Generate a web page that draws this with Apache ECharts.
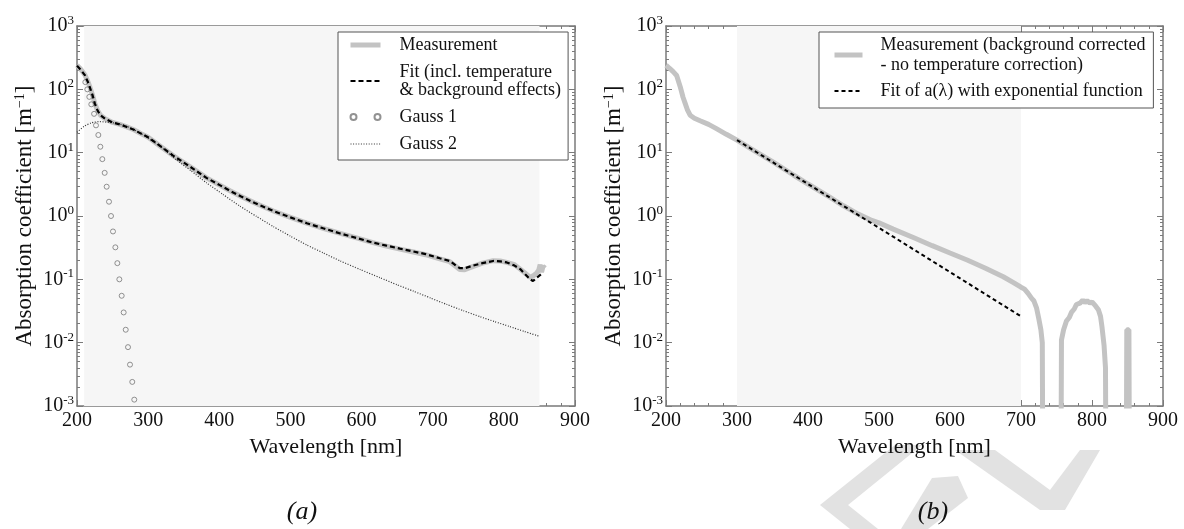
<!DOCTYPE html>
<html>
<head>
<meta charset="utf-8">
<script src="https://cdn.jsdelivr.net/npm/echarts@6/dist/echarts.min.js"></script>
<style>
  html, body { margin: 0; padding: 0; background: #fff; }
  #chart-container { width: 1184px; height: 529px; }
</style>
</head>
<body>
<div id="chart-container"></div>
<script>
// ---- data ----
var xTicks = [200, 300, 400, 500, 600, 700, 800, 900];
var decades = [0.001, 0.01, 0.1, 1, 10, 100, 1000];

// (a) measurement
var measA_wl = [200, 205, 211, 215, 218, 222, 225, 229, 233, 240, 250, 260, 270, 280, 290, 300, 320, 335, 350, 365, 382, 400, 415, 430, 450, 476, 500, 523, 546, 570, 593, 616, 635, 654, 673, 690, 710, 724, 731, 738, 745, 757, 770, 785, 795, 804, 815, 823, 830, 837, 842, 846, 849, 851, 853, 855, 858];
var measA_val = [240, 210, 170, 135, 110, 80, 60, 46, 39, 34, 30, 28, 25.5, 23, 20, 17.5, 12, 9.0, 7.0, 5.4, 4.0, 3.1, 2.5, 2.05, 1.6, 1.2, 0.95, 0.77, 0.64, 0.53, 0.45, 0.38, 0.335, 0.30, 0.27, 0.245, 0.21, 0.19, 0.165, 0.143, 0.142, 0.16, 0.18, 0.197, 0.195, 0.185, 0.17, 0.145, 0.125, 0.107, 0.115, 0.125, 0.14, 0.17, 0.13, 0.16, 0.15];
// (a) fit
var fitA_wl = [200, 205, 211, 215, 218, 222, 225, 229, 233, 240, 250, 260, 270, 280, 290, 300, 320, 335, 350, 365, 382, 400, 415, 430, 450, 476, 500, 523, 546, 570, 593, 616, 635, 654, 673, 690, 710, 724, 731, 738, 745, 757, 770, 785, 795, 804, 815, 823, 830, 837, 841, 846, 852];
var fitA_val = [235, 205, 168, 133, 108, 80, 60, 46, 39, 34, 30, 28, 25.5, 23, 20, 17.5, 12, 9.0, 7.0, 5.4, 4.0, 3.1, 2.5, 2.05, 1.6, 1.2, 0.95, 0.77, 0.64, 0.53, 0.45, 0.38, 0.34, 0.305, 0.275, 0.25, 0.215, 0.195, 0.17, 0.15, 0.15, 0.165, 0.18, 0.195, 0.192, 0.185, 0.165, 0.145, 0.12, 0.1, 0.094, 0.105, 0.12];
// (a) Gauss 1 (sampled points)
var gauss1_wl = [211.7, 214.5, 217.3, 220.1, 224, 226.7, 230, 232.8, 235.6, 238.9, 241.7, 245, 247.8, 250.6, 253.9, 256.7, 259.5, 262.8, 265.6, 268.5, 271.7, 274.5, 277.7, 280.5];
var gauss1_val = [130, 100, 76, 58, 41, 27, 19, 12.4, 7.9, 4.8, 2.9, 1.68, 1.0, 0.57, 0.32, 0.18, 0.10, 0.055, 0.030, 0.016, 0.0085, 0.0045, 0.0024, 0.00126];
// (a) Gauss 2
var gauss2_wl = [200, 210, 220, 232, 245, 256, 270, 285, 300, 320, 340, 360, 382, 405, 429, 452, 476, 500, 523, 546, 570, 598, 626, 650, 673, 697, 720, 743, 767, 787, 808, 829, 850];
var gauss2_val = [21, 26, 29.5, 31, 30, 29, 26, 21.5, 17, 11.8, 7.66, 5.2, 3.34, 2.2, 1.43, 0.99, 0.68, 0.48, 0.348, 0.262, 0.195, 0.143, 0.106, 0.082, 0.065, 0.0507, 0.040, 0.032, 0.0256, 0.0215, 0.018, 0.015, 0.0126];

// (b) measurement (values below the axis floor drop out of the plot)
var measB_wl = [200, 205, 210, 215, 220, 224, 227, 230, 234, 240, 248, 260, 271, 285, 300, 320, 350, 380, 400, 430, 450, 470, 490, 500, 520, 550, 575, 600, 625, 650, 675, 690, 700, 705, 710, 715, 718, 722, 725, 728, 730, 731, 756, 757, 760, 764, 768, 771, 775, 778, 783, 787, 790, 793, 797, 800, 805, 809, 812, 814, 817, 819, 820, 848, 849, 852, 853, 860];
var measB_val = [240, 215, 190, 165, 110, 75, 60, 48, 39, 35, 32, 28, 24, 19.5, 15.8, 11.5, 7.2, 4.4, 3.2, 2.0, 1.45, 1.08, 0.85, 0.78, 0.62, 0.45, 0.34, 0.26, 0.2, 0.15, 0.11, 0.088, 0.075, 0.07, 0.06, 0.05, 0.046, 0.035, 0.024, 0.016, 0.01, 0.00001, 0.00001, 0.011, 0.016, 0.022, 0.025, 0.03, 0.034, 0.04, 0.042, 0.047, 0.043, 0.046, 0.042, 0.044, 0.038, 0.033, 0.026, 0.018, 0.009, 0.004, 0.00001, 0.00001, 0.016, 0.016, 0.00001, 0.00001];
// (b) exponential fit
var fitB_wl = [300, 400, 500, 600, 700];
var fitB_val = [15.8, 3.2, 0.65, 0.13, 0.026];

var shadeA = [210, 850];
var shadeB = [300, 700];

// ---- styling ----
var FONT = '"Liberation Serif", "DejaVu Serif", serif';
var AX = '#7a7a7a';
var TXT = '#111';
var GREY = '#c3c3c3';
var FIT_A = 'Fit (incl. temperature\n& background effects)';
var MEAS_B = 'Measurement (background corrected\n- no temperature correction)';
var FIT_B = 'Fit of a(\u03bb) with exponential function';
var NO_DOT = { color: 'rgba(0,0,0,0)', borderWidth: 0, opacity: 0 };

var minorTicks = [];
decades.slice(0, -1).forEach(function (d) {
  for (var k = 2; k <= 9; k++) minorTicks.push(+(k * d).toPrecision(3));
});

function pairs(w, v) {
  return w.map(function (x, i) { return [x, v[i]]; });
}

function xAxes(g) {
  var base = {
    gridIndex: g, type: 'value', min: xTicks[0], max: xTicks[xTicks.length - 1], interval: 100,
    axisLine: { onZero: false, lineStyle: { color: AX, width: 1.5 } },
    axisTick: { inside: true, length: 6, lineStyle: { color: AX } },
    minorTick: { show: true, splitNumber: 5, length: 3, lineStyle: { color: AX } },
    splitLine: { show: false }
  };
  return [
    Object.assign({}, base, {
      position: 'bottom',
      axisLabel: { fontFamily: FONT, fontSize: 20, color: TXT, margin: 5 },
      name: 'Wavelength [nm]', nameLocation: 'middle', nameGap: 22,
      nameTextStyle: { fontFamily: FONT, fontSize: 22, color: TXT }
    }),
    Object.assign({}, base, { position: 'top', axisLabel: { show: false } })
  ];
}

function yAxes(g) {
  var common = {
    gridIndex: g, type: 'log', logBase: 10, min: decades[0], max: decades[decades.length - 1],
    splitNumber: 6, splitLine: { show: false }
  };
  var line = { show: true, onZero: false, lineStyle: { color: AX, width: 1.5 } };
  var noLine = { show: false, onZero: false };
  var major = { inside: true, length: 6, lineStyle: { color: AX } };
  var minor = { inside: true, length: 3, customValues: minorTicks, lineStyle: { color: AX } };
  return [
    Object.assign({}, common, {
      position: 'left', axisLine: line, axisTick: major,
      axisLabel: {
        margin: 3,
        formatter: function (v) {
          return '{b|10}{s|' + Math.round(Math.log10(v)) + '}';
        },
        rich: {
          b: { fontFamily: FONT, fontSize: 20, color: TXT, padding: [2, 0, 2, 0] },
          s: { fontFamily: FONT, fontSize: 13, color: TXT, verticalAlign: 'top' }
        }
      },
      name: 'Absorption coefficient [m{s|\u22121}]', nameLocation: 'middle', nameGap: 41,
      nameTextStyle: {
        fontFamily: FONT, fontSize: 23, color: TXT,
        rich: { s: { fontFamily: FONT, fontSize: 14, color: TXT, verticalAlign: 'top' } }
      }
    }),
    Object.assign({}, common, { position: 'left', axisLine: noLine, axisTick: minor, axisLabel: { show: false } }),
    Object.assign({}, common, { position: 'right', axisLine: line, axisTick: major, axisLabel: { show: false } }),
    Object.assign({}, common, { position: 'right', axisLine: noLine, axisTick: minor, axisLabel: { show: false } })
  ];
}

function shade(range, xi, yi) {
  return {
    type: 'line', xAxisIndex: xi, yAxisIndex: yi, data: [], silent: true, z: 0,
    markArea: {
      silent: true,
      itemStyle: { color: '#f6f6f6' },
      data: [[{ xAxis: range[0] }, { xAxis: range[1] }]]
    }
  };
}

var legendText = { fontFamily: FONT, fontSize: 18, color: TXT, padding: [0, 0, 0, 14] };

var dom = document.getElementById('chart-container');
var myChart = echarts.init(dom, null, { renderer: 'canvas' });

var option = {
  animation: false,
  backgroundColor: '#fff',
  grid: [
    { left: 77, top: 26, width: 498, height: 380, outerBoundsMode: 'none' },
    { left: 666, top: 26, width: 497, height: 380, outerBoundsMode: 'none' }
  ],
  xAxis: xAxes(0).concat(xAxes(1)),
  yAxis: yAxes(0).concat(yAxes(1)),
  legend: [
    {
      left: 338, top: 32, orient: 'vertical', selectedMode: false,
      itemWidth: 30, itemHeight: 6, itemGap: 9, padding: [4, 7, 7, 10],
      borderColor: '#555', borderWidth: 1, backgroundColor: '#fff',
      textStyle: Object.assign({ lineHeight: 18 }, legendText),
      data: [
        { name: 'Measurement', lineStyle: { width: 5 }, itemStyle: NO_DOT },
        { name: FIT_A, lineStyle: { width: 2 }, itemStyle: NO_DOT },
        { name: 'Gauss 1', icon: 'path://M0,3a3,3 0 1,0 6,0a3,3 0 1,0 -6,0zM24,3a3,3 0 1,0 6,0a3,3 0 1,0 -6,0z' },
        { name: 'Gauss 2', lineStyle: { width: 1.2 }, itemStyle: NO_DOT }
      ]
    },
    {
      left: 819, top: 32, orient: 'vertical', selectedMode: false,
      itemWidth: 28, itemHeight: 6, itemGap: 6, padding: [3, 8, 7, 13],
      borderColor: '#555', borderWidth: 1, backgroundColor: '#fff',
      textStyle: Object.assign({ lineHeight: 20 }, legendText, { padding: [0, 0, 0, 13] }),
      data: [
        { name: MEAS_B, lineStyle: { width: 5 }, itemStyle: NO_DOT },
        { name: FIT_B, lineStyle: { width: 2 }, itemStyle: NO_DOT }
      ]
    }
  ],
  series: [
    shade(shadeA, 0, 0),
    {
      name: 'Measurement', type: 'line', xAxisIndex: 0, yAxisIndex: 0, z: 2,
      data: pairs(measA_wl, measA_val), symbol: 'none',
      lineStyle: { color: GREY, width: 5 }, itemStyle: { color: GREY }
    },
    {
      name: 'Gauss 2', type: 'line', xAxisIndex: 0, yAxisIndex: 0, z: 3,
      data: pairs(gauss2_wl, gauss2_val), symbol: 'none', smooth: 0.2,
      lineStyle: { color: '#333', width: 1.2, type: [1, 1.6] }, itemStyle: { color: '#333' }
    },
    {
      name: 'Gauss 1', type: 'scatter', xAxisIndex: 0, yAxisIndex: 0, z: 3,
      data: pairs(gauss1_wl, gauss1_val), symbol: 'circle', symbolSize: 5,
      itemStyle: { color: 'rgba(0,0,0,0)', borderColor: '#777', borderWidth: 1 }
    },
    {
      name: FIT_A, type: 'line', xAxisIndex: 0, yAxisIndex: 0, z: 4,
      data: pairs(fitA_wl, fitA_val), symbol: 'none',
      lineStyle: { color: '#000', width: 2.2, type: [5, 3] }, itemStyle: { color: '#000' }
    },
    shade(shadeB, 2, 4),
    {
      name: MEAS_B, type: 'line', xAxisIndex: 2, yAxisIndex: 4, z: 2,
      data: pairs(measB_wl, measB_val), symbol: 'none',
      lineStyle: { color: GREY, width: 5 }, itemStyle: { color: GREY }
    },
    {
      name: FIT_B, type: 'line', xAxisIndex: 2, yAxisIndex: 4, z: 4,
      data: pairs(fitB_wl, fitB_val), symbol: 'none',
      lineStyle: { color: '#000', width: 2, type: [4, 3] }, itemStyle: { color: '#000' }
    }
  ],
  graphic: [
    { type: 'polygon', z: -10, shape: { points: [[895, 445], [922, 445], [848, 505], [878, 529], [850, 529], [820, 505]] }, style: { fill: '#e2e2e2' } },
    { type: 'polygon', z: -10, shape: { points: [[932, 478], [958, 476], [968, 498], [928, 529], [901, 529]] }, style: { fill: '#e2e2e2' } },
    { type: 'polygon', z: -10, shape: { points: [[955, 450], [995, 450], [1050, 490], [1080, 450], [1100, 450], [1065, 510], [1040, 510]] }, style: { fill: '#e2e2e2' } },
    { type: 'text', x: 302, y: 512, z: 10, style: { text: '(a)', fontFamily: FONT, fontStyle: 'italic', fontSize: 26, fill: TXT, align: 'center', verticalAlign: 'middle' } },
    { type: 'text', x: 933, y: 512, z: 10, style: { text: '(b)', fontFamily: FONT, fontStyle: 'italic', fontSize: 26, fill: TXT, align: 'center', verticalAlign: 'middle' } }
  ]
};

myChart.setOption(option);
window.addEventListener('resize', myChart.resize);
</script>
</body>
</html>
